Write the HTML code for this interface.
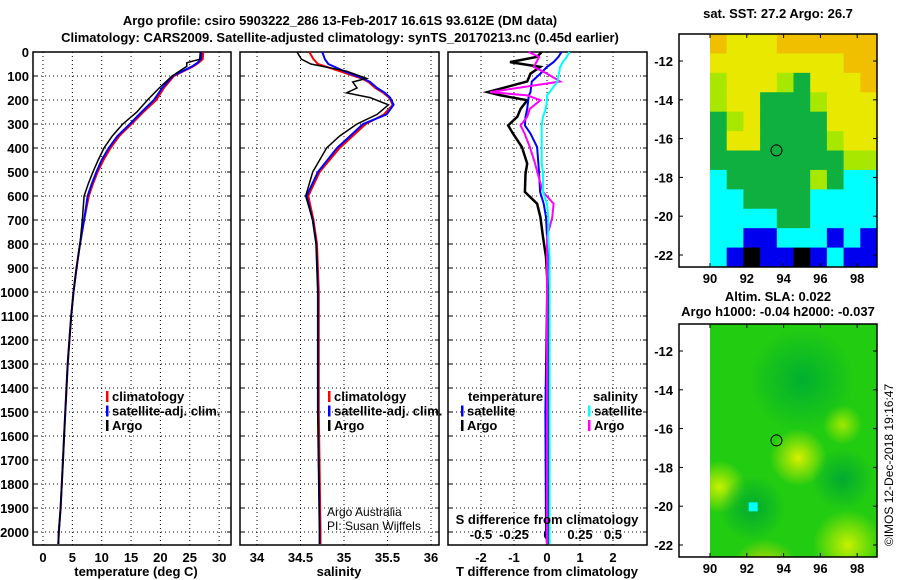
<!DOCTYPE html>
<html><head><meta charset="utf-8"><style>
html,body{margin:0;padding:0;background:#fff;width:900px;height:580px;overflow:hidden}
svg{display:block;font-family:"Liberation Sans",Arial,sans-serif;overflow:hidden}
.b{font-weight:bold;font-size:13px}
</style></head><body>
<svg id="c" width="900" height="580" viewBox="0 0 900 580">
<defs id="defs"><clipPath id="slaclip"><rect x="710" y="324" width="167" height="233"/></clipPath></defs>
<text class="b" x="340" y="25" text-anchor="middle">Argo profile: csiro 5903222_286 13-Feb-2017 16.61S 93.612E (DM data)</text>
<text class="b" x="340" y="42" text-anchor="middle">Climatology: CARS2009. Satellite-adjusted climatology: synTS_20170213.nc (0.45d earlier)</text>
<text class="b" x="778" y="18" text-anchor="middle">sat. SST: 27.2 Argo: 26.7</text>
<text class="b" x="778" y="301" text-anchor="middle">Altim. SLA: 0.022</text>
<text class="b" x="778" y="316" text-anchor="middle">Argo h1000: -0.04 h2000: -0.037</text>
<text x="893" y="465" font-size="12" text-anchor="middle" transform="rotate(-90 893 465)">©IMOS 12-Dec-2018 19:16:47</text>
<text x="327" y="516" font-size="12">Argo Australia</text>
<text x="327" y="530" font-size="12">PI: Susan Wijffels</text>
<g id="g"></g>
</svg>
<script>
// ---- data ----
const depthsT = [0,30,45,60,100,150,200,250,300,350,400,450,500,550,600,700,800,900,1000,1100,1200,1300,1400,1500,1600,1700,1800,1900,2000,2050];
const tempClim = [27.3,27.2,26.5,25.6,22.3,20.6,19.3,17.1,15.1,13.0,11.5,10.3,9.3,8.5,7.8,7.0,6.3,5.7,5.2,4.8,4.5,4.2,4.0,3.8,3.6,3.4,3.2,3.0,2.7,2.6];
const tempSat  = [27.0,26.9,26.3,25.4,22.1,20.3,18.9,16.8,14.8,12.7,11.2,10.0,9.1,8.3,7.6,7.0,6.3,5.7,5.2,4.8,4.5,4.2,4.0,3.8,3.6,3.4,3.2,3.0,2.7,2.6];
const tempArgo = [26.8,26.7,24.5,24.5,22.0,19.8,17.8,16.0,13.6,11.8,10.4,9.4,8.5,7.7,7.0,6.7,6.3,5.7,5.2,4.8,4.5,4.2,4.0,3.8,3.6,3.4,3.2,3.0,2.7,2.6];
const depthsS = [0,30,50,80,110,125,150,170,190,220,260,300,350,400,500,600,700,800,1000,1500,2000,2050];
const salClim = [34.60,34.65,34.70,34.95,35.20,35.28,35.36,35.45,35.52,35.56,35.46,35.25,35.10,34.95,34.72,34.59,34.65,34.69,34.71,34.71,34.73,34.73];
const salSat  = [34.75,34.78,34.82,35.00,35.22,35.30,35.38,35.47,35.53,35.57,35.49,35.22,35.07,34.92,34.70,34.57,34.64,34.68,34.70,34.70,34.72,34.72];
const salArgo = [34.46,34.51,34.62,35.03,35.26,35.10,35.15,35.03,35.30,35.51,35.38,35.15,34.95,34.80,34.64,34.56,34.64,34.68,34.70,34.70,34.72,34.72];
const depthsD = [0,20,42,62,90,123,167,181,201,237,270,306,340,396,465,507,583,632,688,771,854,1000,1500,2000,2050];
const dTArgo = [-0.16,-0.3,-1.12,-0.2,-0.5,-0.6,-1.8,-1.4,-0.6,-0.8,-0.9,-1.18,-1.03,-0.76,-0.6,-0.65,-0.67,-0.3,-0.2,-0.12,-0.03,0.03,0.05,0.06,0.06];
const dTSat  = [0.44,0.35,0.2,0.0,-0.2,-0.46,-0.5,-0.55,-0.57,-0.6,-0.65,-0.67,-0.5,-0.3,-0.26,-0.24,-0.21,-0.1,-0.03,0.0,0.02,0.0,-0.05,-0.03,0.0];
const dSArgo = [-0.14,-0.06,-0.08,-0.1,0.0,0.1,-0.43,-0.15,-0.05,-0.13,-0.15,-0.2,-0.17,-0.13,-0.09,-0.07,-0.03,0.05,0.04,0.0,0.0,0.0,0.0,0.0,0.0];
const dSSat  = [0.17,0.15,0.12,0.1,0.09,0.08,0.02,0.0,0.0,-0.01,-0.03,-0.04,-0.04,-0.04,-0.04,-0.03,-0.03,0.0,0.01,0.01,0.02,0.02,0.02,0.02,0.02];
const depthTicks = [0,100,200,300,400,500,600,700,800,900,1000,1100,1200,1300,1400,1500,1600,1700,1800,1900,2000];
const tTicks = [0,5,10,15,20,25,30];
const sTicks = [34,34.5,35,35.5,36];
const dtTicks = [-2,-1,0,1,2];
const dsTicks = [-0.5,-0.25,0,0.25,0.5];
const dsLabels = ['-0.5','-0.25','0','0.25','0.5'];
const lonTicks = [90,92,94,96,98];
const latTicks = [-12,-14,-16,-18,-20,-22];
const sstGrid = ["OYYYOOOOOO","YYYYYYYYOO","LYYYLGYYYO","LYYGGGLYYY","GLYGGGGYYY","GYYGGGGLYY","GGGGGGGGLL","CGGGGGLGCC","CCGGGGCCCC","CCCCGGCCCC","CCBBCCCBCB","CBKBBKBCBB"];
const argoLon = 93.612, argoLat = -16.61;

// ---- helpers ----
const NS="http://www.w3.org/2000/svg";
const G=document.getElementById('g');
function mk(tag,attrs,parent){const e=document.createElementNS(NS,tag);for(const k in attrs)e.setAttribute(k,attrs[k]);(parent||G).appendChild(e);return e;}
const yD = d => 52 + d*0.24;
const xT = t => 43 + t*5.87;
const xS = s => 257 + (s-34)*87;
const xDT = v => 547 + v*33;
const xDS = v => 547 + v*132;
const mapX = lon => 710 + (lon-90)*18.4;
const mapY1 = lat => 61 + (-12-lat)*19.4;
const mapY2 = lat => 351 + (-12-lat)*19.4;

function panel(x0,x1,name,xTicks,xf,xLabels){
  for(const d of depthTicks){
    const l=mk('line',{x1:x0,x2:x1,y1:yD(d),y2:yD(d),stroke:'#000','stroke-dasharray':'1,3'});
    
    
    mk('line',{x1:x0,x2:x0+4,y1:yD(d),y2:yD(d),stroke:'#000'});
    mk('line',{x1:x1-4,x2:x1,y1:yD(d),y2:yD(d),stroke:'#000'});
  }
  for(const v of xTicks){
    const l=mk('line',{x1:xf(v),x2:xf(v),y1:52,y2:545,stroke:'#000','stroke-dasharray':'1,3'});
    
    
    if(xLabels){const t=mk('text',{x:xf(v),y:562,'text-anchor':'middle',class:'b'});t.textContent=v;
      
      }
  }
  const r=mk('rect',{x:x0,y:52,width:x1-x0,height:493,fill:'none',stroke:'#000','stroke-width':1.5});
  
  
}
function line(xs,ds,xf,col,w,name){
  const pts=xs.map((v,i)=>xf(v).toFixed(1)+','+yD(ds[i]).toFixed(1)).join(' ');
  const p=mk('polyline',{points:pts,fill:'none',stroke:col,'stroke-width':w});
  
  
}
function txt(x,y,s,name,extra){const t=mk('text',Object.assign({x:x,y:y,class:'b'},extra||{}));t.textContent=s;
  
  return t;}
function legendMark(x,y,col){mk('rect',{x:x,y:y-10,width:2.5,height:11,fill:col});}

// panels
panel(33,231,'temperature-panel',tTicks,xT,true);
panel(240,439,'salinity-panel',sTicks,xS,true);
panel(448,647,'difference-panel',dtTicks,xDT,true);
dsTicks.forEach((v,i)=>{txt(xDS(v),539,dsLabels[i],'s-diff-tick-label',{'text-anchor':'middle'});});
for(const d of depthTicks){txt(29,yD(d)+5,d,'depth-tick-label',{'text-anchor':'end'});}

line(tempClim,depthsT,xT,'#f00',2,'temperature-climatology-line');
line(tempSat,depthsT,xT,'#00f',2,'temperature-satellite-line');
line(tempArgo,depthsT,xT,'#000',1.5,'temperature-argo-line');
line(salClim,depthsS,xS,'#f00',2,'salinity-climatology-line');
line(salSat,depthsS,xS,'#00f',2,'salinity-satellite-line');
line(salArgo,depthsS,xS,'#000',1.5,'salinity-argo-line');
line(dTArgo,depthsD,xDT,'#000',2.5,'t-diff-argo-line');
line(dTSat,depthsD,xDT,'#00f',2,'t-diff-satellite-line');
line(dSArgo,depthsD,xDS,'#f0f',2,'s-diff-argo-line');
line(dSSat,depthsD,xDS,'#0ff',2,'s-diff-satellite-line');

txt(136,576,'temperature (deg C)','temperature-axis-title',{'text-anchor':'middle'});
txt(339,576,'salinity','salinity-axis-title',{'text-anchor':'middle'});
txt(547,576,'T difference from climatology','t-diff-axis-title',{'text-anchor':'middle'});
txt(547,524,'S difference from climatology','s-diff-axis-title',{'text-anchor':'middle'});

// legends
const L1=[['climatology','#f00'],['satellite-adj. clim.','#00f'],['Argo','#000']];
L1.forEach((e,i)=>{legendMark(106,401+i*14.5,e[1]);txt(112,401+i*14.5,e[0],'temperature-legend-entry',{'font-size':'12'});});
L1.forEach((e,i)=>{legendMark(328,401+i*14.5,e[1]);txt(334,401+i*14.5,e[0],'salinity-legend-entry',{'font-size':'12'});});
txt(468,401,'temperature','diff-legend-temperature-header');
legendMark(461,415.5,'#00f');txt(467,415.5,'satellite','diff-legend-t-satellite');
legendMark(461,430,'#000');txt(467,430,'Argo','diff-legend-t-argo');
txt(593,401,'salinity','diff-legend-salinity-header');
legendMark(588,415.5,'#0ff');txt(594,415.5,'satellite','diff-legend-s-satellite');
legendMark(588,430,'#f0f');txt(594,430,'Argo','diff-legend-s-argo');

// maps
const cols={O:'#f0c000',Y:'#e8e800',L:'#a8e800',G:'#10b040',C:'#00ffff',B:'#0000ee',K:'#000'};
const mw=(877-710)/10, mh=(267-34)/12;
sstGrid.forEach((row,r)=>{[...row].forEach((c,k)=>{
  const cell=mk('rect',{x:710+k*mw,y:34+r*mh,width:mw+0.5,height:mh+0.5,fill:cols[c]});
  
  
});});
// SLA map background
const defs=document.getElementById('defs');
const blobs=[[93,-23.5,'#f0e000',1.6],[94.8,-17.5,'#d8f000',1.3],[97.2,-15.8,'#a0e800',0.9],[90.5,-19,'#c8f000',1.2],[97.5,-22,'#c8f000',1.6],[92.3,-20.1,'#00aa30',1.5],[97.2,-18.6,'#00aa30',1.4],[95,-13.5,'#00b030',2.4]];
const slaG=mk('g',{'clip-path':'url(#slaclip)'});
mk('rect',{x:710,y:324,width:167,height:233,fill:'#22cc11'},slaG);
blobs.forEach((b,i)=>{
  const gr=mk('radialGradient',{id:'bl'+i},defs);
  mk('stop',{offset:'0','stop-color':b[2],'stop-opacity':1},gr);
  mk('stop',{offset:'1','stop-color':b[2],'stop-opacity':0},gr);
  const e=mk('ellipse',{cx:mapX(b[0]),cy:mapY2(b[1]),rx:b[3]*22,ry:b[3]*22,fill:'url(#bl'+i+')'},slaG);
  
  
});
mk('rect',{x:mapX(92.1),y:mapY2(-19.8),width:9,height:9,fill:'#0ff'},slaG);
function mapFrame(top,bot,yf,name){
  const r=mk('rect',{x:679,y:top,width:198,height:bot-top,fill:'none',stroke:'#000','stroke-width':1.5});
  
  
  for(const lo of lonTicks){mk('line',{x1:mapX(lo),x2:mapX(lo),y1:top,y2:top+4,stroke:'#000'});mk('line',{x1:mapX(lo),x2:mapX(lo),y1:bot-4,y2:bot,stroke:'#000'});
    txt(mapX(lo),bot+16,lo,name+'-lon-label',{'text-anchor':'middle'});}
  for(const la of latTicks){mk('line',{x1:679,x2:683,y1:yf(la),y2:yf(la),stroke:'#000'});mk('line',{x1:873,x2:877,y1:yf(la),y2:yf(la),stroke:'#000'});
    txt(673,yf(la)+5,la,name+'-lat-label',{'text-anchor':'end'});}
  const c=mk('circle',{cx:mapX(argoLon),cy:yf(argoLat),r:5.5,fill:'none',stroke:'#000'});
  
  
}
mapFrame(34,267,mapY1,'sst-map');
mapFrame(324,557,mapY2,'sla-map');
</script>
</body></html>
